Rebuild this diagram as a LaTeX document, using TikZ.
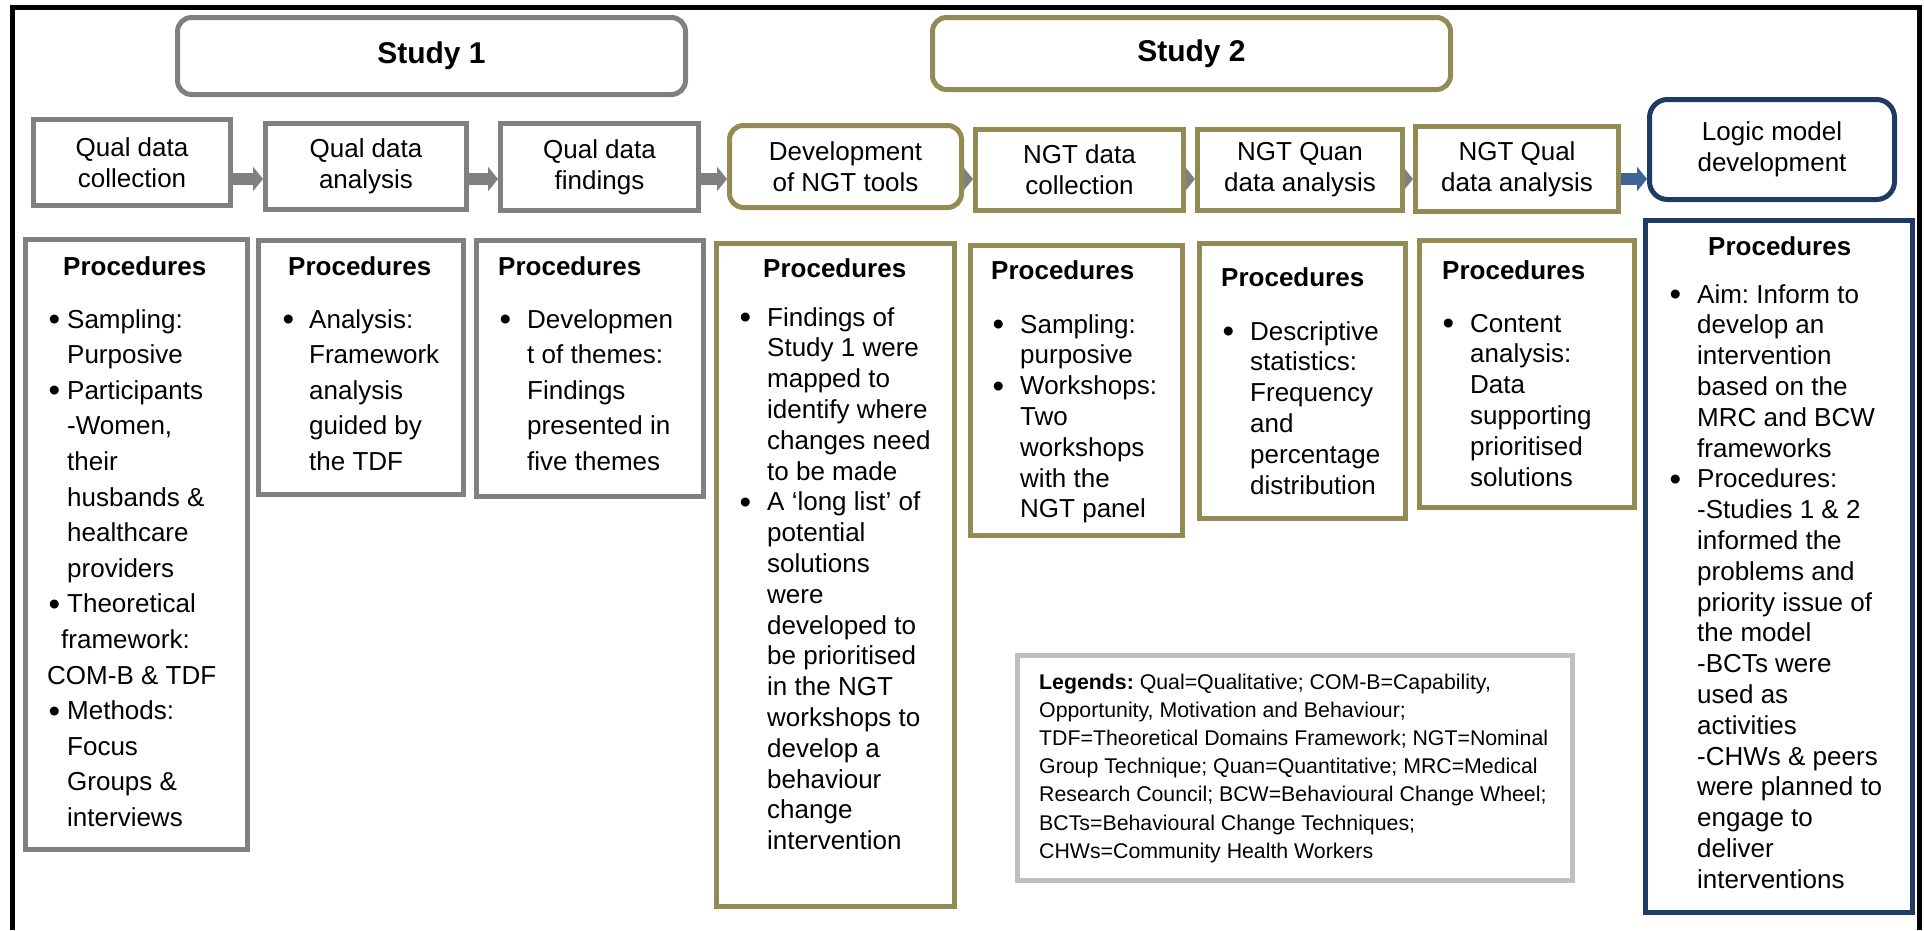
\documentclass[tikz,border=0pt]{standalone}
\usepackage{fontspec}
\setmainfont{Liberation Sans}
\usetikzlibrary{arrows.meta}
\pgfdeclarelayer{back}
\pgfsetlayers{back,main}
\frenchspacing

\definecolor{grayc}{HTML}{808080}
\definecolor{olivec}{HTML}{948A54}
\definecolor{navyc}{HTML}{1F3A63}
\definecolor{bluearr}{HTML}{3C6494}
\definecolor{legc}{HTML}{BFBFBF}

% bullet with a fixed hanging indent, and the matching indent for wrapped lines
\newcommand{\bul}[1]{\makebox[#1][l]{\raisebox{-2.5pt}{\fontsize{33}{33}\selectfont\textbullet}}}
\newcommand{\ind}[1]{\hspace*{#1}}
% a block of lines whose baseline is the first line
\newcommand{\lines}[1]{\begin{tabular}[t]{@{}l@{}}#1\end{tabular}}
% box from outer corner (x1,y1) to (x2,y2)
\newcommand{\mkbox}[7]{\node[#1, minimum width={#5-#3-5}, minimum height={#6-#4-5}] (#2) at ({(#3+#5)/2},{(#4+#6)/2}) {#7};}

\tikzset{
  base/.style={fill=white, inner sep=0pt, line width=5pt, align=center,
               font=\fontsize{26}{31}\selectfont},
  gbox/.style={base, draw=grayc},
  obox/.style={base, draw=olivec},
  nbox/.style={base, draw=navyc},
  lbox/.style={base, draw=legc},
  rbox/.style={rounded corners=14pt},
  ttl/.style={font=\fontsize{30}{36}\selectfont\bfseries},
  hdr/.style={anchor=base west, inner sep=0pt, font=\fontsize{26}{31}\selectfont\bfseries},
  bodyA/.style={anchor=base west, inner sep=0pt, font=\fontsize{26}{35.6}\selectfont},
  bodyB/.style={anchor=base west, inner sep=0pt, font=\fontsize{26}{30.8}\selectfont},
  legtxt/.style={anchor=base west, inner sep=0pt, font=\fontsize{21.3}{28.2}\selectfont},
  flow/.style={line width=12pt, draw=grayc, -{Triangle[length=10pt,width=24pt]}},
  flowb/.style={flow, draw=bluearr},
}

\begin{document}
\begin{tikzpicture}[x=1pt, y=-1pt]
\useasboundingbox (0,0) rectangle (1924,930);
\begin{pgfonlayer}{back}
  \fill[white] (0,0) rectangle (1924,930);
\end{pgfonlayer}

% outer frame (open at the bottom)
\draw[line width=5pt] (12.5,930) -- (12.5,7.5) -- (1919.5,7.5) -- (1919.5,930);

% study headings
\mkbox{gbox,rbox,ttl}{s1}{175}{15}{688}{97}{Study 1}
\mkbox{obox,rbox,ttl}{s2}{930}{15}{1453}{92}{Study 2}

% process steps
\mkbox{gbox}{qdc}{31}{117}{233}{208}{Qual data\\collection}
\mkbox{gbox}{qda}{263}{121}{469}{212}{Qual data\\analysis}
\mkbox{gbox}{qdf}{498}{121}{701}{213}{Qual data\\findings}
\mkbox{obox,rbox}{dev}{727}{123}{964}{210}{Development\\of NGT tools}
\mkbox{obox}{ndc}{973}{127}{1186}{213}{NGT data\\collection}
\mkbox{obox}{nquan}{1195}{127}{1405}{213}{NGT Quan\\data analysis}
\mkbox{obox}{nqual}{1413}{124}{1621}{214}{NGT Qual\\data analysis}
\mkbox{nbox,rounded corners=18pt}{logic}{1647}{97}{1897}{202}{Logic model\\development}

% flow arrows, behind the boxes
\coordinate (arow) at (0,179);
\begin{pgfonlayer}{back}
  \draw[flow] (qdc.east |- arow) -- (qda.west |- arow);
  \draw[flow] (qda.east |- arow) -- (qdf.west |- arow);
  \draw[flow] (qdf.east |- arow) -- (dev.west |- arow);
  \draw[flow] (dev.east |- arow) -- (ndc.west |- arow);
  \draw[flow] (ndc.east |- arow) -- (nquan.west |- arow);
  \draw[flow] (nquan.east |- arow) -- (nqual.west |- arow);
  \draw[flowb] (nqual.east |- arow) -- (logic.west |- arow);
\end{pgfonlayer}

% procedure boxes
\mkbox{gbox}{p1}{23}{237}{250}{852}{}
\mkbox{gbox}{p2}{256}{238}{466}{497}{}
\mkbox{gbox}{p3}{474}{238}{706}{499}{}
\mkbox{obox}{p4}{714}{241}{957}{909}{}
\mkbox{obox}{p5}{968}{243}{1185}{538}{}
\mkbox{obox}{p6}{1197}{241}{1408}{521}{}
\mkbox{obox}{p7}{1417}{238}{1637}{510}{}
\mkbox{nbox}{p8}{1643}{218}{1915}{915}{}
\mkbox{lbox}{leg}{1015}{653}{1575}{883}{}

% headings of the procedure boxes
\node[hdr] (p1h) at (63,275) {Procedures};
\node[hdr] (p2h) at (288,275) {Procedures};
\node[hdr] (p3h) at (498,275) {Procedures};
\node[hdr] (p4h) at (763,277) {Procedures};
\node[hdr] (p5h) at (991,279.5) {Procedures};
\node[hdr] (p6h) at (1221,286) {Procedures};
\node[hdr] (p7h) at (1442,279.5) {Procedures};
\node[hdr] (p8h) at (1708,255) {Procedures};

% procedure texts
\node[bodyA] (p1t) at (48.5,328) {\lines{%
\bul{18.5pt}Sampling:\\
\ind{18.5pt}Purposive\\
\bul{18.5pt}Participants\\
\ind{18.5pt}-Women,\\
\ind{18.5pt}their\\
\ind{18.5pt}husbands \&\\
\ind{18.5pt}healthcare\\
\ind{18.5pt}providers\\
\bul{18.5pt}Theoretical\\
\ind{12.5pt}framework:\\
\hspace*{-1.5pt}COM-B \& TDF\\
\bul{18.5pt}Methods:\\
\ind{18.5pt}Focus\\
\ind{18.5pt}Groups \&\\
\ind{18.5pt}interviews}};

\node[bodyA] (p2t) at (282.5,328) {\lines{%
\bul{26.5pt}Analysis:\\
\ind{26.5pt}Framework\\
\ind{26.5pt}analysis\\
\ind{26.5pt}guided by\\
\ind{26.5pt}the TDF}};

\node[bodyA] (p3t) at (499.5,328) {\lines{%
\bul{27.5pt}Developmen\\
\ind{27.5pt}t of themes:\\
\ind{27.5pt}Findings\\
\ind{27.5pt}presented in\\
\ind{27.5pt}five themes}};

\node[bodyB] (p4t) at (739.5,326) {\lines{%
\bul{27.5pt}Findings of\\
\ind{27.5pt}Study 1 were\\
\ind{27.5pt}mapped to\\
\ind{27.5pt}identify where\\
\ind{27.5pt}changes need\\
\ind{27.5pt}to be made\\
\bul{27.5pt}A ‘long list’ of\\
\ind{27.5pt}potential\\
\ind{27.5pt}solutions\\
\ind{27.5pt}were\\
\ind{27.5pt}developed to\\
\ind{27.5pt}be prioritised\\
\ind{27.5pt}in the NGT\\
\ind{27.5pt}workshops to\\
\ind{27.5pt}develop a\\
\ind{27.5pt}behaviour\\
\ind{27.5pt}change\\
\ind{27.5pt}intervention}};

\node[bodyB] (p5t) at (992.5,333) {\lines{%
\bul{27.5pt}Sampling:\\
\ind{27.5pt}purposive\\
\bul{27.5pt}Workshops:\\
\ind{27.5pt}Two\\
\ind{27.5pt}workshops\\
\ind{27.5pt}with the\\
\ind{27.5pt}NGT panel}};

\node[bodyB] (p6t) at (1222.5,340) {\lines{%
\bul{27.5pt}Descriptive\\
\ind{27.5pt}statistics:\\
\ind{27.5pt}Frequency\\
\ind{27.5pt}and\\
\ind{27.5pt}percentage\\
\ind{27.5pt}distribution}};

\node[bodyB] (p7t) at (1442.5,332) {\lines{%
\bul{27.5pt}Content\\
\ind{27.5pt}analysis:\\
\ind{27.5pt}Data\\
\ind{27.5pt}supporting\\
\ind{27.5pt}prioritised\\
\ind{27.5pt}solutions}};

\node[bodyB] (p8t) at (1669.5,303) {\lines{%
\bul{27.5pt}Aim: Inform to\\
\ind{27.5pt}develop an\\
\ind{27.5pt}intervention\\
\ind{27.5pt}based on the\\
\ind{27.5pt}MRC and BCW\\
\ind{27.5pt}frameworks\\
\bul{27.5pt}Procedures:\\
\ind{27.5pt}-Studies 1 \& 2\\
\ind{27.5pt}informed the\\
\ind{27.5pt}problems and\\
\ind{27.5pt}priority issue of\\
\ind{27.5pt}the model\\
\ind{27.5pt}-BCTs were\\
\ind{27.5pt}used as\\
\ind{27.5pt}activities\\
\ind{27.5pt}-CHWs \& peers\\
\ind{27.5pt}were planned to\\
\ind{27.5pt}engage to\\
\ind{27.5pt}deliver\\
\ind{27.5pt}interventions}};

% abbreviations
\node[legtxt] (legt) at (1039,689) {\lines{%
\textbf{Legends:} Qual=Qualitative; COM-B=Capability,\\
Opportunity, Motivation and Behaviour;\\
TDF=Theoretical Domains Framework; NGT=Nominal\\
Group Technique; Quan=Quantitative; MRC=Medical\\
Research Council; BCW=Behavioural Change Wheel;\\
BCTs=Behavioural Change Techniques;\\
CHWs=Community Health Workers}};
\end{tikzpicture}
\end{document}
